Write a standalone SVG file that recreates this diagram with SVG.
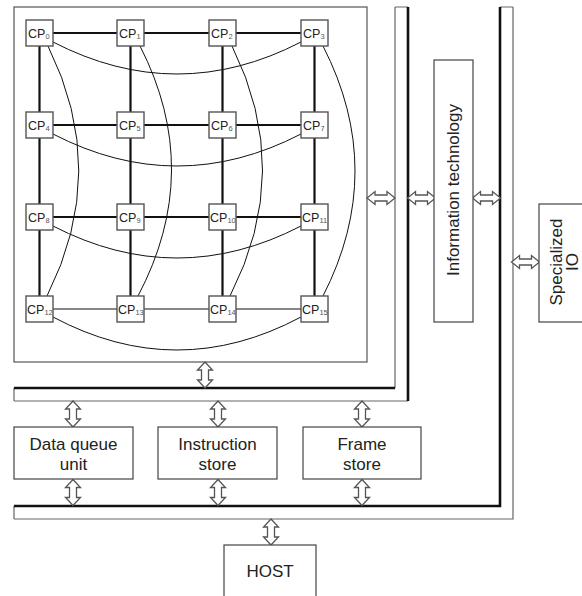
<svg xmlns="http://www.w3.org/2000/svg" width="582" height="596" viewBox="0 0 582 596">
  <style>
    .frame { fill: none; stroke: #555; stroke-width: 1.2; }
    .box { fill: #fff; stroke: #444; stroke-width: 1.2; }
    .cp { fill: #fff; stroke: #555; stroke-width: 1.4; }
    .thick { stroke: #111; stroke-width: 2.2; fill: none; }
    .thin { stroke: #111; stroke-width: 1.1; fill: none; }
    .wrap { stroke: #111; stroke-width: 1; fill: none; }
    .busB { stroke: #111; stroke-width: 2.6; fill: none; }
    .busG { stroke: #666; stroke-width: 1.2; fill: none; }
    .arrow { fill: #fff; stroke: #555; stroke-width: 1.3; stroke-linejoin: miter; }
    .lbl { font-family: "Liberation Sans", Arial, sans-serif; font-size: 17px; fill: #222; text-anchor: middle; }
    .cpl { font-family: "Liberation Sans", Arial, sans-serif; font-size: 12.5px; fill: #222; }
    .sub { font-size: 7.5px; fill: #555; }
  </style>
  <defs>
    <!-- hollow double-headed arrows -->
    <path id="av" d="M0,-13 L7.5,-5 L3.5,-5 L3.5,5 L7.5,5 L0,13 L-7.5,5 L-3.5,5 L-3.5,-5 L-7.5,-5 Z"/>
    <path id="ah" d="M-14,0 L-6,-6.5 L-6,-3 L6,-3 L6,-6.5 L14,0 L6,6.5 L6,3 L-6,3 L-6,6.5 Z"/>
  </defs>

  <!-- processor array frame -->
  <rect class="frame" x="14" y="7" width="353" height="355"/>

  <!-- buses -->
  <g id="bus-inner">
    <path class="busG" d="M395,7 L395,388 M395,7 L408,7 M14,401 L408,401 M14,388 L14,401"/>
    <path class="busB" d="M408,7 L408,401 M14,388 L395,388"/>
  </g>
  <g id="bus-outer">
    <path class="busG" d="M513,7 L513,519 L14,519 M500,7 L513,7 M14,506 L14,519"/>
    <path class="busB" d="M500,7 L500,506 L14,506"/>
  </g>

  <g id="connectors">
    <!-- mesh links -->
    <path class="thick" d="M39.5,33 H314.5 M39.5,125 H314.5 M39.5,217 H314.5"/>
    <path class="thin" d="M39.5,309 H314.5"/>
    <path class="thick" d="M39.5,33 V309 M130.5,33 V309 M222.5,33 V309 M314.5,33 V309"/>
    <!-- wrap-around links -->
    <path class="wrap" d="M53,42 Q177,106 301,42"/>
    <path class="wrap" d="M53,134 Q177,198 301,134"/>
    <path class="wrap" d="M53,226 Q177,290 301,226"/>
    <path class="wrap" d="M53,317 Q177,383 301,317"/>
    <path class="wrap" d="M48,46 Q110,171 47,296"/>
    <path class="wrap" d="M140,46 Q204,171 138,296"/>
    <path class="wrap" d="M232,46 Q294,171 230,296"/>
    <path class="wrap" d="M323,46 Q387,171 323,296"/>
    <!-- bus arrows -->
    <use href="#av" class="arrow" x="205" y="375"/>
    <use href="#av" class="arrow" x="73" y="414"/>
    <use href="#av" class="arrow" x="218" y="414"/>
    <use href="#av" class="arrow" x="362" y="414"/>
    <use href="#av" class="arrow" x="73" y="492.5"/>
    <use href="#av" class="arrow" x="218" y="492.5"/>
    <use href="#av" class="arrow" x="362" y="492.5"/>
    <use href="#av" class="arrow" x="271" y="532"/>
    <use href="#ah" class="arrow" x="381" y="198"/>
    <use href="#ah" class="arrow" x="421.5" y="198"/>
    <use href="#ah" class="arrow" x="486.5" y="198"/>
    <use href="#ah" class="arrow" x="525.5" y="262"/>
  </g>

  <!-- processing elements -->
  <g id="cp0"><rect class="cp" x="26" y="20" width="27" height="26"/><text class="cpl" x="28" y="37.5">CP<tspan class="sub" dy="1.5">0</tspan></text></g>
  <g id="cp1"><rect class="cp" x="117" y="20" width="27" height="26"/><text class="cpl" x="119" y="37.5">CP<tspan class="sub" dy="1.5">1</tspan></text></g>
  <g id="cp2"><rect class="cp" x="209" y="20" width="27" height="26"/><text class="cpl" x="211" y="37.5">CP<tspan class="sub" dy="1.5">2</tspan></text></g>
  <g id="cp3"><rect class="cp" x="301" y="20" width="27" height="26"/><text class="cpl" x="303" y="37.5">CP<tspan class="sub" dy="1.5">3</tspan></text></g>
  <g id="cp4"><rect class="cp" x="26" y="112" width="27" height="26"/><text class="cpl" x="28" y="129.5">CP<tspan class="sub" dy="1.5">4</tspan></text></g>
  <g id="cp5"><rect class="cp" x="117" y="112" width="27" height="26"/><text class="cpl" x="119" y="129.5">CP<tspan class="sub" dy="1.5">5</tspan></text></g>
  <g id="cp6"><rect class="cp" x="209" y="112" width="27" height="26"/><text class="cpl" x="211" y="129.5">CP<tspan class="sub" dy="1.5">6</tspan></text></g>
  <g id="cp7"><rect class="cp" x="301" y="112" width="27" height="26"/><text class="cpl" x="303" y="129.5">CP<tspan class="sub" dy="1.5">7</tspan></text></g>
  <g id="cp8"><rect class="cp" x="26" y="204" width="27" height="26"/><text class="cpl" x="28" y="221.5">CP<tspan class="sub" dy="1.5">8</tspan></text></g>
  <g id="cp9"><rect class="cp" x="117" y="204" width="27" height="26"/><text class="cpl" x="119" y="221.5">CP<tspan class="sub" dy="1.5">9</tspan></text></g>
  <g id="cp10"><rect class="cp" x="209" y="204" width="27" height="26"/><text class="cpl" x="210" y="221.5">CP<tspan class="sub" dy="1.5">10</tspan></text></g>
  <g id="cp11"><rect class="cp" x="301" y="204" width="27" height="26"/><text class="cpl" x="302" y="221.5">CP<tspan class="sub" dy="1.5">11</tspan></text></g>
  <g id="cp12"><rect class="cp" x="26" y="296" width="27" height="26"/><text class="cpl" x="27" y="313.5">CP<tspan class="sub" dy="1.5">12</tspan></text></g>
  <g id="cp13"><rect class="cp" x="117" y="296" width="27" height="26"/><text class="cpl" x="118" y="313.5">CP<tspan class="sub" dy="1.5">13</tspan></text></g>
  <g id="cp14"><rect class="cp" x="209" y="296" width="27" height="26"/><text class="cpl" x="210" y="313.5">CP<tspan class="sub" dy="1.5">14</tspan></text></g>
  <g id="cp15"><rect class="cp" x="301" y="296" width="27" height="26"/><text class="cpl" x="302" y="313.5">CP<tspan class="sub" dy="1.5">15</tspan></text></g>

  <!-- peripheral units -->
  <g id="info-tech">
    <rect class="box" x="434" y="60" width="39" height="262"/>
    <text class="lbl" transform="translate(459,190) rotate(-90)">Information technology</text>
  </g>
  <g id="specialized-io">
    <rect class="box" x="539" y="204" width="60" height="118"/>
    <text class="lbl" transform="translate(562,262) rotate(-90)">Specialized</text>
    <text class="lbl" transform="translate(578,262) rotate(-90)">IO</text>
  </g>
  <g id="data-queue">
    <rect class="box" x="14" y="427" width="119" height="52"/>
    <text class="lbl" x="73.5" y="450">Data queue</text>
    <text class="lbl" x="73.5" y="470">unit</text>
  </g>
  <g id="instruction-store">
    <rect class="box" x="158" y="427" width="119" height="52"/>
    <text class="lbl" x="217.5" y="450">Instruction</text>
    <text class="lbl" x="217.5" y="470">store</text>
  </g>
  <g id="frame-store">
    <rect class="box" x="303" y="427" width="118" height="52"/>
    <text class="lbl" x="362" y="450">Frame</text>
    <text class="lbl" x="362" y="470">store</text>
  </g>
  <g id="host">
    <rect class="box" x="224" y="545" width="92" height="60"/>
    <text class="lbl" x="270" y="577">HOST</text>
  </g>
</svg>
